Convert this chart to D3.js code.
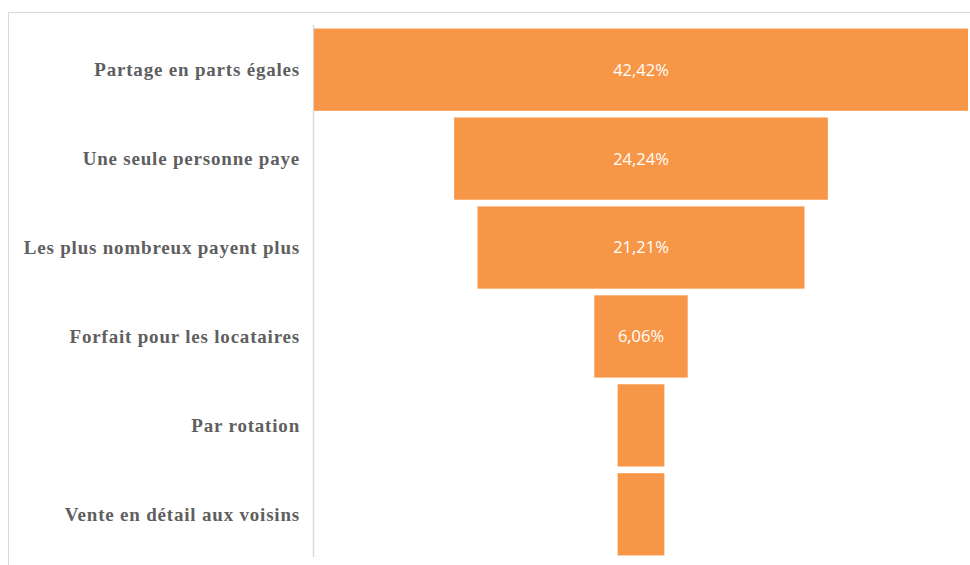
<!DOCTYPE html>
<html>
<head>
<meta charset="utf-8">
<script src="https://cdn.jsdelivr.net/npm/d3@7"></script>
<style>
  body { margin: 0; background: #fff; }
  svg { display: block; }
</style>
</head>
<body>
<div id="chart"></div>
<script>
// funnel values (share of answers)
var categories = ['Partage en parts égales', 'Une seule personne paye', 'Les plus nombreux payent plus',
  'Forfait pour les locataires', 'Par rotation', 'Vente en détail aux voisins'];
var values = [42.42, 24.24, 21.21, 6.06, 3.03, 3.03];
var shownLabels = ['42,42%', '24,24%', '21,21%', '6,06%', '', ''];

var W = 970, H = 565;
var plotLeft = 314, plotRight = 968, plotTop = 25, plotBottom = 559;
var center = (plotLeft + plotRight) / 2;

var svg = d3.select('#chart').append('svg')
  .attr('width', W)
  .attr('height', H);

// chart frame
svg.append('rect')
  .attr('x', 8.5).attr('y', 12.5)
  .attr('width', 1000).attr('height', 600)
  .attr('fill', 'none')
  .attr('stroke', '#d9d9d9');

var y = d3.scaleBand()
  .domain(categories)
  .range([plotTop, plotBottom])
  .paddingInner(0.075)
  .paddingOuter(0.04);

var w = d3.scaleLinear()
  .domain([0, d3.max(values)])
  .range([0, plotRight - plotLeft]);

// vertical axis line
svg.append('line')
  .attr('x1', plotLeft - 0.5).attr('x2', plotLeft - 0.5)
  .attr('y1', plotTop).attr('y2', plotBottom - 2)
  .attr('stroke', '#d9d9d9')
  .attr('stroke-width', 1.5);

svg.selectAll('rect.bar')
  .data(values)
  .enter().append('rect')
  .attr('class', 'bar')
  .attr('x', function (d) { return center - w(d) / 2; })
  .attr('y', function (d, i) { return y(categories[i]); })
  .attr('width', function (d) { return w(d); })
  .attr('height', y.bandwidth())
  .attr('fill', '#f79646');

svg.selectAll('text.val')
  .data(values)
  .enter().append('text')
  .attr('class', 'val')
  .attr('x', center)
  .attr('y', function (d, i) { return y(categories[i]) + y.bandwidth() / 2; })
  .attr('dy', '0.36em')
  .attr('text-anchor', 'middle')
  .style('font-family', '"Open Sans", sans-serif')
  .style('font-size', '16.5px')
  .style('fill', '#fff')
  .text(function (d, i) { return shownLabels[i]; });

svg.selectAll('text.cat')
  .data(categories)
  .enter().append('text')
  .attr('class', 'cat')
  .attr('x', 300)
  .attr('y', function (d) { return y(d) + y.bandwidth() / 2; })
  .attr('dy', '0.35em')
  .attr('text-anchor', 'end')
  .style('font-family', '"Liberation Serif", serif')
  .style('font-weight', 'bold')
  .style('font-size', '19px')
  .style('letter-spacing', '0.8px')
  .style('fill', '#5f5f5f')
  .text(function (d) { return d; });
</script>
</body>
</html>
